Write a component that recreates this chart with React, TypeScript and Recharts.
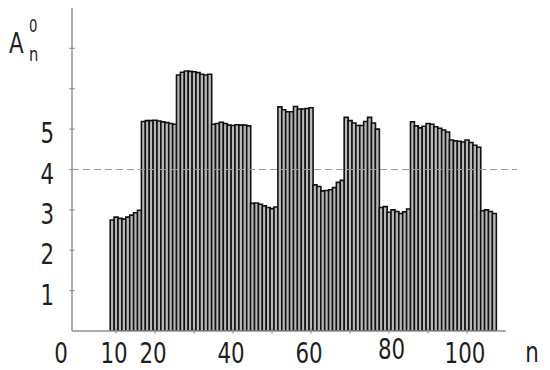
import React from 'react';
import { BarChart, Bar, XAxis, YAxis, ReferenceLine } from 'recharts';

const nValues = [
  9, 10, 11, 12, 13, 14, 15, 16, 17, 18, 19, 20, 21, 22, 23, 24, 25, 26, 27, 28,
  29, 30, 31, 32, 33, 34, 35, 36, 37, 38, 39, 40, 41, 42, 43, 44, 45, 46, 47, 48,
  49, 50, 51, 52, 53, 54, 55, 56, 57, 58, 59, 60, 61, 62, 63, 64, 65, 66, 67, 68,
  69, 70, 71, 72, 73, 74, 75, 76, 77, 78, 79, 80, 81, 82, 83, 84, 85, 86, 87, 88,
  89, 90, 91, 92, 93, 94, 95, 96, 97, 98, 99, 100, 101, 102, 103, 104, 105, 106, 107,
];

const amplitudes = [
  2.75, 2.82, 2.79, 2.77, 2.82, 2.87, 2.93, 2.99,
  5.19, 5.21, 5.21, 5.22, 5.2, 5.18, 5.16, 5.14, 5.12,
  6.34, 6.41, 6.44, 6.43, 6.42, 6.4, 6.36, 6.34, 6.36,
  5.12, 5.14, 5.17, 5.14, 5.1, 5.09, 5.11, 5.1, 5.1, 5.08,
  3.16, 3.17, 3.14, 3.1, 3.06, 3.03, 3.07,
  5.55, 5.48, 5.43, 5.43, 5.56, 5.5, 5.5, 5.51, 5.53,
  3.62, 3.58, 3.47, 3.48, 3.5, 3.55, 3.68, 3.73,
  5.29, 5.21, 5.15, 5.09, 5.09, 5.19, 5.29, 5.15, 5.0,
  3.06, 3.08, 2.94, 3.0, 2.96, 2.91, 2.95, 3.02,
  5.18, 5.08, 5.03, 5.07, 5.14, 5.12, 5.06, 5.02, 4.98, 4.93, 4.73, 4.71, 4.7, 4.68, 4.73, 4.67, 4.6, 4.55,
  2.98, 3.0, 2.96, 2.91,
];

const yTicks = [1, 2, 3, 4, 5, 6, 7];
const yTickLabels = ['1', '2', '3', '4', '5', '', ''];
const xTicks = [10, 20, 30, 40, 50, 60, 70, 80, 90, 100];
const xTickLabels = ['10', '20', '', '40', '', '60', '', '80', '', '100'];
const thresholdValue = 4;
const xDomain = [-1.3, 110];
const yDomain = [0, 8];
const dashedLineEnd = 112.8;
const originLabel = '0';
const xAxisTitle = 'n';
const yAxisTitle = { main: 'A', sub: 'n', sup: '0' };

const data = nValues.map((n, i) => ({ n, a: amplitudes[i] }));

const FONT = "'DejaVu Sans Condensed', 'Liberation Sans Narrow', sans-serif";
const TEXT_COLOR = '#1e1e1e';
const AXIS_COLOR = '#8f8f8f';
const SQUEEZE = 0.82;

const Txt = ({ x, y, size, anchor = 'start', children }: any) => (
  <text
    transform={`translate(${x},${y}) scale(${SQUEEZE},1)`}
    textAnchor={anchor}
    fontFamily={FONT}
    fontSize={size}
    fill={TEXT_COLOR}
  >
    {children}
  </text>
);

const YTick = (props: any) => {
  const { x, y, payload } = props;
  const idx = yTicks.indexOf(payload.value);
  const label = idx >= 0 ? yTickLabels[idx] : '';
  return (
    <g>
      <line x1={x - 2.5} x2={x + 2.5} y1={y} y2={y} stroke={AXIS_COLOR} strokeWidth={1.2} />
      {label ? (
        <Txt x={x - 18} y={y + 14} size={29} anchor="end">
          {label}
        </Txt>
      ) : null}
    </g>
  );
};

const XTick = (props: any) => {
  const { x, y, payload } = props;
  const idx = xTicks.indexOf(payload.value);
  const label = idx >= 0 ? xTickLabels[idx] : '';
  const raised = label === '80';
  return (
    <g>
      <line x1={x} x2={x} y1={y - 2.5} y2={y + 2.5} stroke={AXIS_COLOR} strokeWidth={1.2} />
      {label ? (
        <Txt x={x + (raised ? 2.5 : -2)} y={y + (raised ? 27.5 : 32)} size={29} anchor="middle">
          {label}
        </Txt>
      ) : null}
    </g>
  );
};

export default function App() {
  return (
    <div style={{ position: 'absolute', left: 0, top: 0, width: 550, height: 370, background: '#fff' }}>
      <BarChart
        width={550}
        height={370}
        data={data}
        margin={{ top: 8, right: 44, bottom: 38, left: 71 }}
        barCategoryGap={0}
        barGap={0}
      >
        <XAxis
          dataKey="n"
          type="number"
          domain={xDomain}
          ticks={xTicks}
          height={1}
          tickSize={0}
          tickMargin={0}
          tickLine={false}
          axisLine={{ stroke: AXIS_COLOR, strokeWidth: 1.5 }}
          tick={XTick}
          interval={0}
          allowDataOverflow
        />
        <YAxis
          type="number"
          domain={yDomain}
          ticks={yTicks}
          width={1}
          tickSize={0}
          tickMargin={0}
          tickLine={false}
          axisLine={{ stroke: AXIS_COLOR, strokeWidth: 1.5 }}
          tick={YTick}
          interval={0}
          allowDataOverflow
        />
        <Bar dataKey="a" fill="#b8b8b8" stroke="#111111" strokeWidth={1.6} isAnimationActive={false} />
        <ReferenceLine
          segment={[
            { x: xDomain[0], y: thresholdValue },
            { x: dashedLineEnd, y: thresholdValue },
          ]}
          ifOverflow="visible"
          stroke="#9a9a9a"
          strokeWidth={1.2}
          strokeDasharray="7 4"
        />
      </BarChart>
      <svg
        width={550}
        height={370}
        style={{ position: 'absolute', left: 0, top: 0, pointerEvents: 'none' }}
      >
        <Txt x={61} y={363} size={29} anchor="middle">
          {originLabel}
        </Txt>
        <Txt x={532} y={362} size={29} anchor="middle">
          {xAxisTitle}
        </Txt>
        <Txt x={9} y={53} size={29}>
          {yAxisTitle.main}
        </Txt>
        <Txt x={29} y={61} size={20}>
          {yAxisTitle.sub}
        </Txt>
        <Txt x={29} y={32} size={18}>
          {yAxisTitle.sup}
        </Txt>
      </svg>
    </div>
  );
}
